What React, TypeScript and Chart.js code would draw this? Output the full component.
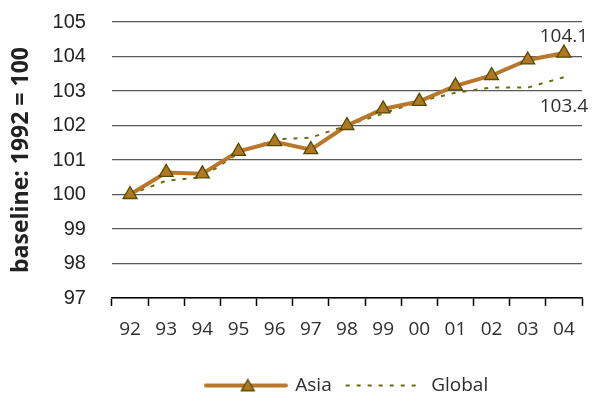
import React, { useEffect, useRef } from 'react';
import { Chart, registerables } from 'chart.js';
Chart.register(...registerables);

const categories = ['92', '93', '94', '95', '96', '97', '98', '99', '00', '01', '02', '03', '04'];
const asiaValues = [100, 100.64, 100.6, 101.25, 101.53, 101.3, 102.0, 102.48, 102.7, 103.15, 103.45, 103.9, 104.1];
const globalValues = [100, 100.4, 100.5, 101.2, 101.6, 101.65, 102.0, 102.35, 102.7, 102.95, 103.1, 103.1, 103.4];
const seriesNames = ['Asia', 'Global'];
const endLabels = ['104.1', '103.4'];
const yMin = 97;
const yMax = 105;
const yTitle = 'baseline: 1992 = 100';

const ASIA_LINE = '#b8772a';
const ASIA_FILL = '#b27722';
const ASIA_EDGE = '#524c00';
const GLOBAL_LINE = '#6b6a10';
const TEXT = '#2e2e2e';
const FONT = "'Open Sans', 'DejaVu Sans', sans-serif";
const ARIAL = "'Liberation Sans', Arial, sans-serif";

function makeAsiaSwatch() {
  const c = document.createElement('canvas');
  c.width = 84;
  c.height = 24;
  const ctx = c.getContext('2d')!;
  ctx.strokeStyle = ASIA_LINE;
  ctx.lineWidth = 4;
  ctx.lineCap = 'round';
  ctx.beginPath();
  ctx.moveTo(2, 12);
  ctx.lineTo(82, 12);
  ctx.stroke();
  const r = 7.5;
  const cx = 44, cy = 13.5;
  ctx.beginPath();
  ctx.moveTo(cx, cy - r);
  ctx.lineTo(cx + r * 0.866, cy + r / 2);
  ctx.lineTo(cx - r * 0.866, cy + r / 2);
  ctx.closePath();
  ctx.fillStyle = ASIA_FILL;
  ctx.fill();
  ctx.strokeStyle = ASIA_EDGE;
  ctx.lineWidth = 1.3;
  ctx.stroke();
  return c;
}

function makeGlobalSwatch() {
  const c = document.createElement('canvas');
  c.width = 80;
  c.height = 24;
  const ctx = c.getContext('2d')!;
  ctx.strokeStyle = GLOBAL_LINE;
  ctx.lineWidth = 2;
  ctx.setLineDash([4, 7]);
  ctx.beginPath();
  ctx.moveTo(4, 12);
  ctx.lineTo(79, 12);
  ctx.stroke();
  return c;
}

const endLabelPlugin = {
  id: 'endLabels',
  afterDatasetsDraw(chart: any) {
    const ctx = chart.ctx;
    ctx.save();
    ctx.font = `19px ${FONT}`;
    ctx.fillStyle = TEXT;
    ctx.textAlign = 'center';
    ctx.textBaseline = 'middle';
    const m0 = chart.getDatasetMeta(0);
    const p0 = m0.data[m0.data.length - 1];
    ctx.fillText(endLabels[0], p0.x, p0.y - 16);
    const m1 = chart.getDatasetMeta(1);
    const p1 = m1.data[m1.data.length - 1];
    ctx.fillText(endLabels[1], p1.x, p1.y + 29);
    ctx.restore();
  },
};

export default function App() {
  const ref = useRef<HTMLCanvasElement>(null);
  useEffect(() => {
    const asiaSwatch = makeAsiaSwatch();
    const globalSwatch = makeGlobalSwatch();
    const chart = new Chart(ref.current!, {
      type: 'line',
      data: {
        labels: categories,
        datasets: [
          {
            label: seriesNames[0],
            data: asiaValues,
            borderColor: ASIA_LINE,
            borderWidth: 4,
            pointStyle: 'triangle',
            pointRadius: 8,
            pointBackgroundColor: ASIA_FILL,
            pointBorderColor: ASIA_EDGE,
            pointBorderWidth: 1.3,
            tension: 0,
          },
          {
            label: seriesNames[1],
            data: globalValues,
            borderColor: GLOBAL_LINE,
            borderWidth: 2,
            borderDash: [4, 7],
            pointRadius: 0,
            tension: 0,
          },
        ],
      },
      options: {
        animation: false,
        responsive: true,
        maintainAspectRatio: false,
        layout: { padding: { left: 2, right: 11, top: 22, bottom: -8 } },
        plugins: {
          tooltip: { enabled: false },
          legend: {
            position: 'bottom',
            fullSize: false,
            labels: {
              usePointStyle: true,
              pointStyleWidth: 80,
              boxHeight: 19,
              padding: 10,
              color: TEXT,
              font: { family: FONT, size: 19 },
              generateLabels: () => [
                { text: seriesNames[0], pointStyle: asiaSwatch, fillStyle: 'transparent', strokeStyle: 'transparent', lineWidth: 0, datasetIndex: 0, fontColor: TEXT },
                { text: seriesNames[1], pointStyle: globalSwatch, fillStyle: 'transparent', strokeStyle: 'transparent', lineWidth: 0, datasetIndex: 1, fontColor: TEXT },
              ] as any,
            },
          },
        },
        scales: {
          x: {
            offset: true,
            afterFit: (scale: any) => { scale.height = 68; },
            grid: {
              offset: true,
              drawOnChartArea: false,
              drawTicks: true,
              tickLength: 8,
              tickColor: '#000',
              tickWidth: 1.5,
            },
            border: { display: true, color: '#000', width: 1.5 },
            ticks: { color: TEXT, font: { family: FONT, size: 19 }, padding: 12, maxRotation: 0 },
          },
          y: {
            min: yMin,
            max: yMax,
            ticks: { stepSize: 1, color: '#222', font: { family: ARIAL, size: 20 }, padding: 3 },
            grid: { color: '#5a5a5a', lineWidth: 1.2, drawTicks: true, tickLength: 23, tickColor: 'rgba(0,0,0,0)' },
            border: { display: false },
            title: {
              display: true,
              text: yTitle,
              color: '#222',
              font: { family: FONT, size: 23, weight: 'bold' },
              padding: { top: 6, bottom: 14 },
            },
          },
        },
      },
      plugins: [endLabelPlugin],
    });
    return () => chart.destroy();
  }, []);
  return (
    <div style={{ position: 'fixed', left: 0, top: 0, width: 593, height: 397, background: '#fff' }}>
      <canvas ref={ref} />
    </div>
  );
}
